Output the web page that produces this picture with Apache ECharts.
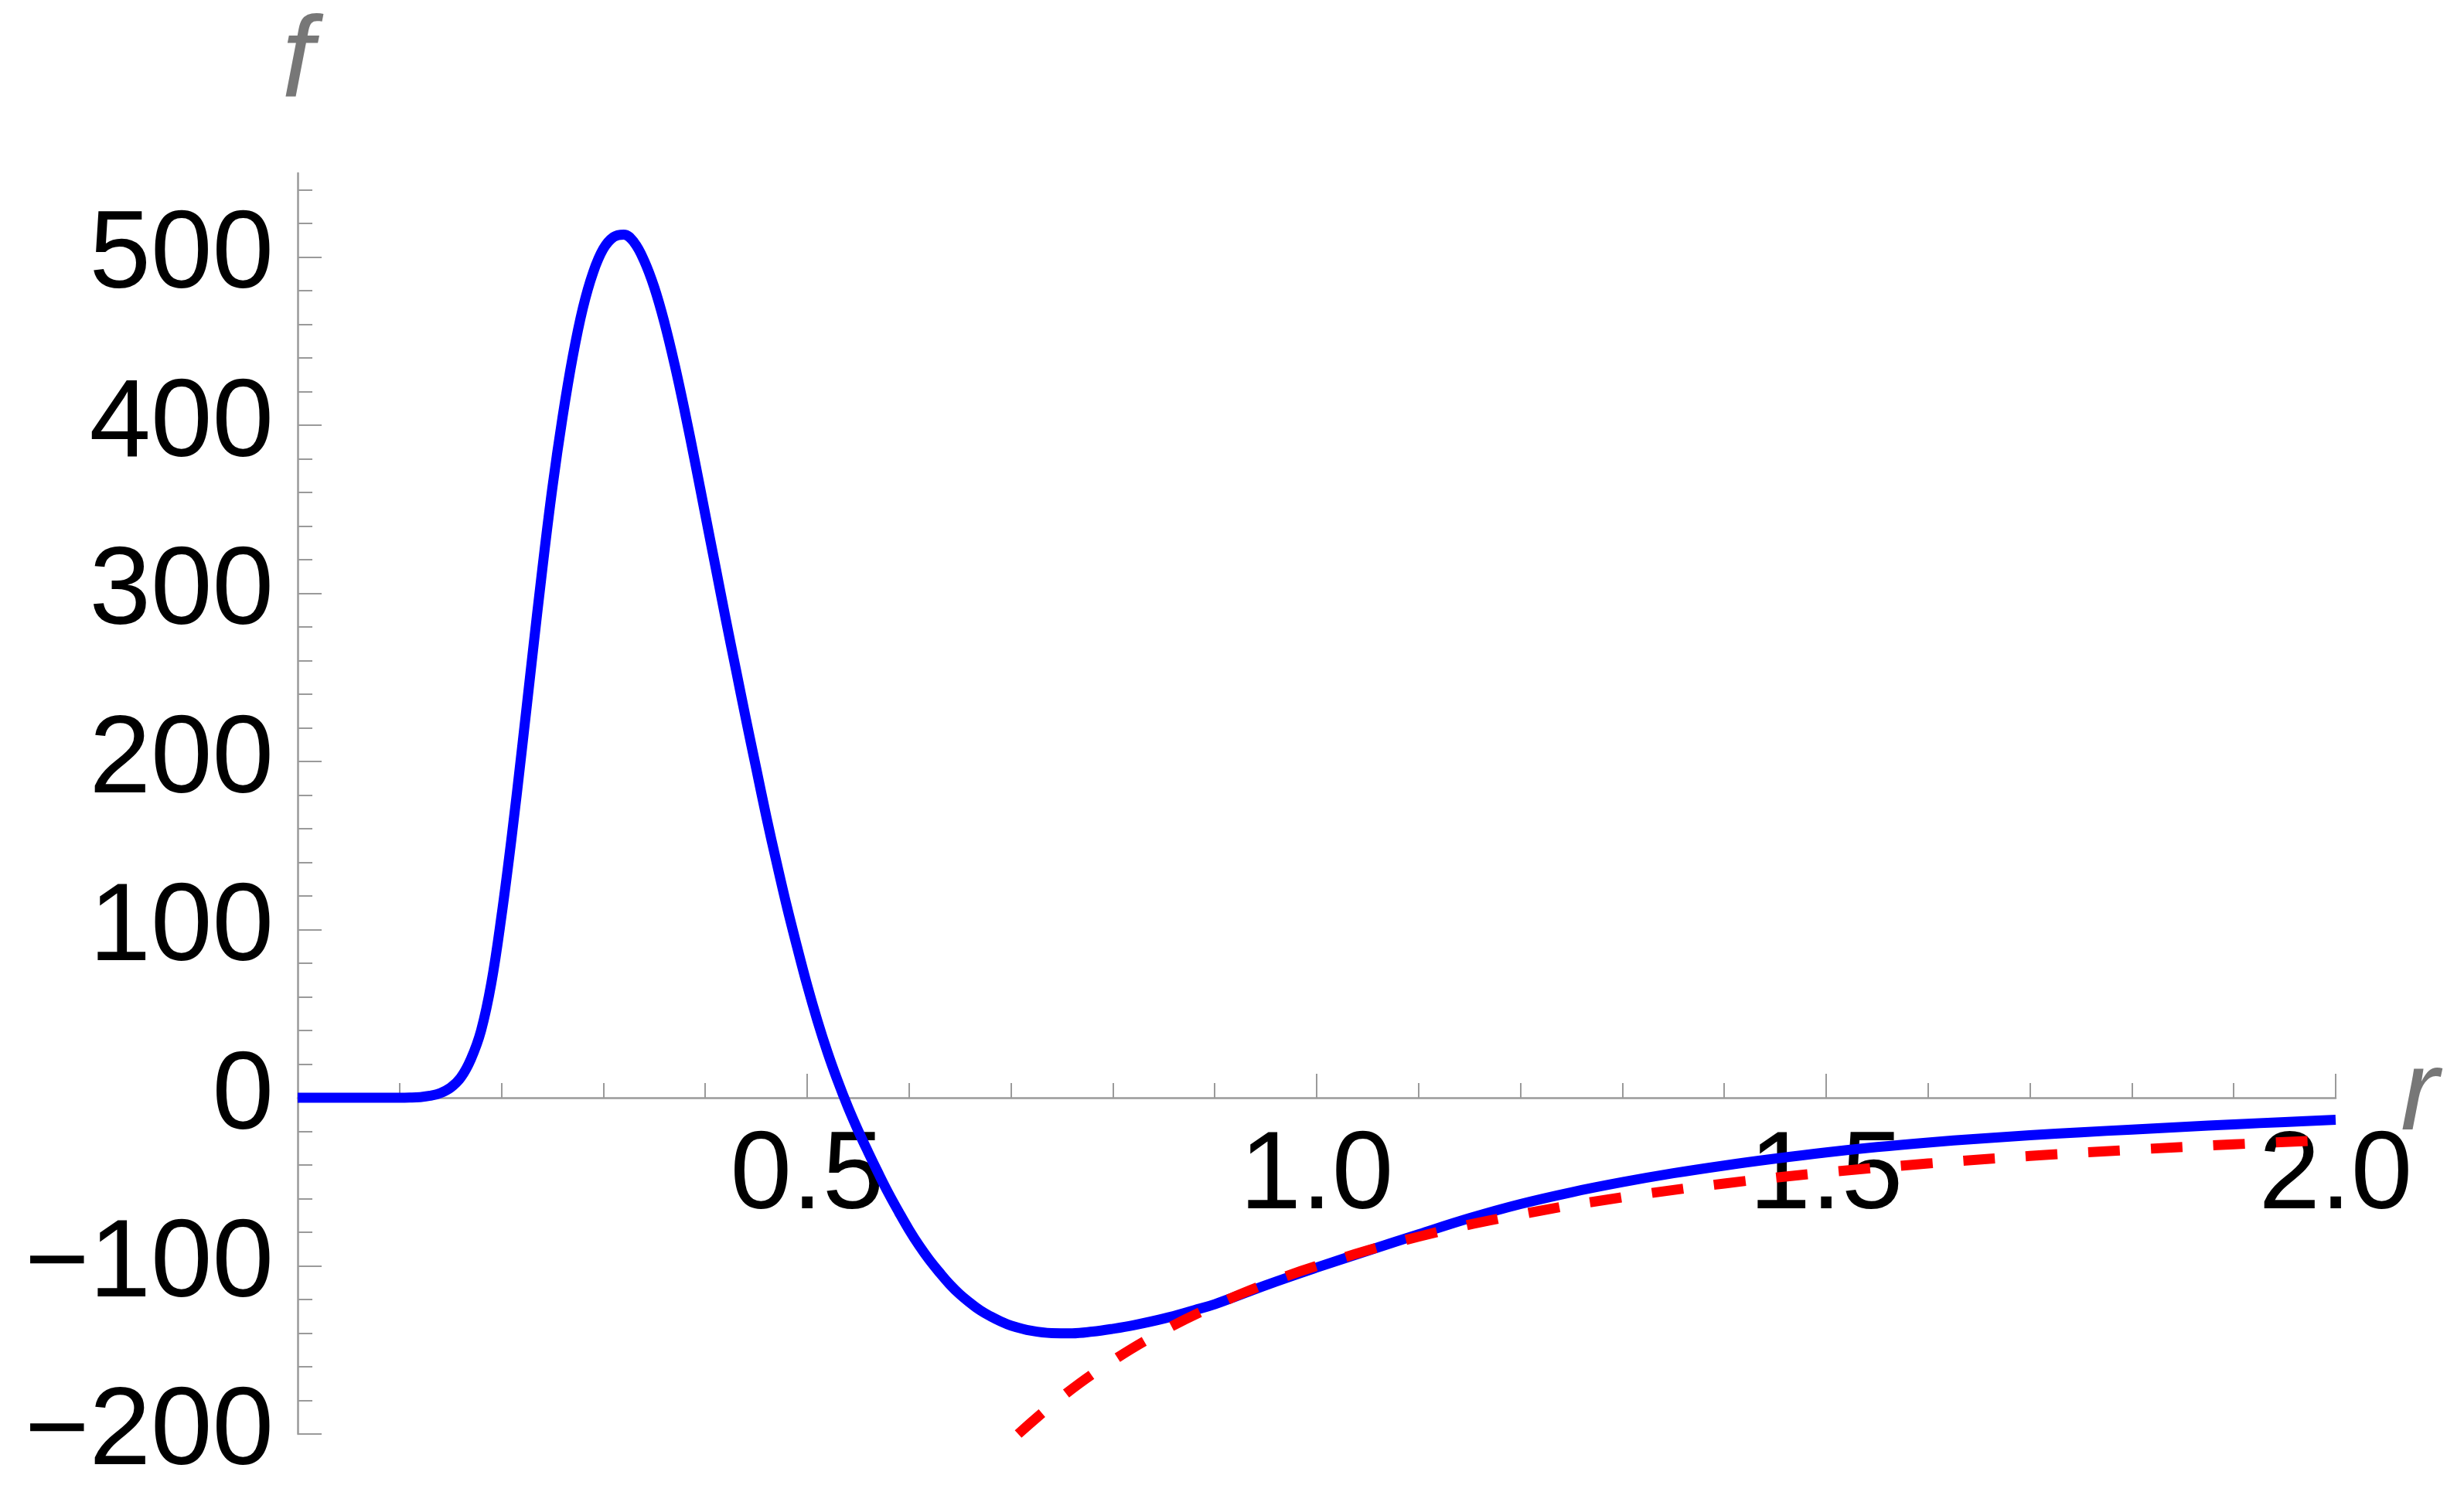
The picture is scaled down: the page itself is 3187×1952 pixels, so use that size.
<!DOCTYPE html>
<html>
<head>
<meta charset="utf-8">
<script src="https://cdn.jsdelivr.net/npm/echarts@6/dist/echarts.min.js"></script>
<style>
html,body{margin:0;padding:0;background:#ffffff;}
#chart{width:3187px;height:1952px;}
</style>
</head>
<body>
<div id="chart"></div>
<script>
// ---- data ----
const rBlue = [0, 0.05, 0.10, 0.11, 0.12, 0.13, 0.14, 0.15, 0.16, 0.17, 0.18, 0.19,
  0.20, 0.21, 0.22, 0.23, 0.24, 0.25, 0.26, 0.27, 0.28, 0.29,
  0.30, 0.31, 0.32, 0.33, 0.34, 0.35, 0.36, 0.37, 0.38, 0.39,
  0.40, 0.41, 0.42, 0.43, 0.44, 0.45, 0.46, 0.47, 0.48, 0.49,
  0.50, 0.51, 0.52, 0.53, 0.54, 0.55, 0.56, 0.57, 0.58, 0.59,
  0.60, 0.61, 0.62, 0.63, 0.64, 0.65, 0.66, 0.67, 0.68, 0.69,
  0.70, 0.72, 0.74, 0.76, 0.78, 0.80, 0.82, 0.85, 0.88, 0.90,
  0.95, 1.00, 1.05, 1.10, 1.15, 1.20, 1.25, 1.30, 1.35, 1.40,
  1.45, 1.50, 1.55, 1.60, 1.65, 1.70, 1.75, 1.80, 1.85, 1.90,
  1.95, 2.00];
const fBlue = [0, 0, 0, 0.1, 0.4, 1.2, 2.8, 6, 12, 23, 40, 68,
  108, 155, 207, 261, 314, 363, 405, 441, 470, 491,
  505, 512, 513.5, 509, 498, 482, 461, 436, 408, 378,
  347, 316, 285, 255, 225, 196, 167, 140, 114, 90,
  67, 46, 27, 10, -5.5, -19.5, -32.5, -45, -57, -68,
  -78.5, -88, -96.5, -104, -111, -117, -122, -126.5, -130, -133,
  -135.5, -138.6, -140, -140.1, -139.1, -137.4, -135.3, -131.3, -126.3, -122.8,
  -111.5, -101, -91.0, -81.2, -71.6, -63.2, -56.2, -50.2, -44.9, -40.3,
  -36.2, -32.5, -29.3, -26.6, -24.3, -22.3, -20.5, -18.9, -17.3, -15.8,
  -14.4, -13.1];

const rRed = [0.7071, 0.75, 0.80, 0.85, 0.90, 0.95, 1.00, 1.10, 1.20, 1.30,
  1.40, 1.50, 1.60, 1.70, 1.80, 1.90, 2.00];
const fRed = [-200, -177.8, -156.3, -138.4, -123.5, -110.8, -100, -82.6, -69.4, -59.2,
  -51, -44.4, -39.1, -34.6, -30.9, -27.7, -25];

const xMin = 0, xMax = 2;
const yMin = -200, yMax = 550;
const xMajorTicks = [0.5, 1.0, 1.5, 2.0];
const xTickLabels = ['0.5', '1.0', '1.5', '2.0'];
const yMajorTicks = [-200, -100, 0, 100, 200, 300, 400, 500];
const yTickLabels = ['\u2212200', '\u2212100', '0', '100', '200', '300', '400', '500'];
const xMinorTicks = [];
for (let i = 1; i <= 20; i++) xMinorTicks.push(i / 10);
const yMinorTicks = [];
for (let v = -200; v <= 540; v += 20) yMinorTicks.push(v);

const W = 3187, H = 1952;
const gridBox = { left: 385, right: 166, top: 224, bottom: 97 };
const gridH = H - gridBox.top - gridBox.bottom;
// move the x axis from the grid bottom up to f = 0
const xAxisOffset = -((0 - yMin) / (yMax - yMin)) * gridH;

const axisColor = '#9a9a9a';
const labelFont = { fontFamily: 'Liberation Sans', fontSize: 143, color: '#000000' };
const nameFont = { fontFamily: 'Liberation Sans', fontStyle: 'italic', fontSize: 148, color: '#777777' };

function labelFor(ticks, labels) {
  return function (v) {
    for (let i = 0; i < ticks.length; i++) {
      if (Math.abs(ticks[i] - v) < 1e-6) return labels[i];
    }
    return '';
  };
}

const chart = echarts.init(document.getElementById('chart'), null, { renderer: 'canvas', width: W, height: H });
chart.setOption({
  animation: false,
  backgroundColor: '#ffffff',
  grid: Object.assign({ containLabel: false, outerBoundsMode: 'none' }, gridBox),
  xAxis: [
    {
      type: 'value', min: xMin, max: xMax, position: 'bottom', offset: xAxisOffset,
      axisLine: { show: true, onZero: false, lineStyle: { color: axisColor, width: 2.5 } },
      axisTick: { show: true, inside: true, length: 31, lineStyle: { color: axisColor, width: 2 }, customValues: xMajorTicks },
      axisLabel: Object.assign({ show: true, customValues: xMajorTicks, formatter: labelFor(xMajorTicks, xTickLabels), margin: 32 }, labelFont),
      splitLine: { show: false },
      name: 'r', nameLocation: 'end', nameGap: 84, nameMoveOverlap: false,
      nameTextStyle: Object.assign({ padding: [50, 0, 0, 0] }, nameFont)
    },
    {
      type: 'value', min: xMin, max: xMax, position: 'bottom', offset: xAxisOffset,
      axisLine: { show: true, onZero: false, lineStyle: { color: axisColor, width: 2.5, opacity: 0 } },
      axisTick: { show: true, inside: true, length: 19, lineStyle: { color: axisColor, width: 2 }, customValues: xMinorTicks },
      axisLabel: { show: false },
      splitLine: { show: false }
    }
  ],
  yAxis: [
    {
      type: 'value', min: yMin, max: yMax, position: 'left',
      axisLine: { show: true, onZero: false, lineStyle: { color: axisColor, width: 2.5 } },
      axisTick: { show: true, inside: true, length: 31, lineStyle: { color: axisColor, width: 2 }, customValues: yMajorTicks },
      axisLabel: Object.assign({ show: true, customValues: yMajorTicks, formatter: labelFor(yMajorTicks, yTickLabels), margin: 31 }, labelFont),
      splitLine: { show: false },
      name: 'f', nameLocation: 'end', nameGap: 66, nameMoveOverlap: false,
      nameTextStyle: nameFont
    },
    {
      type: 'value', min: yMin, max: yMax, position: 'left',
      axisLine: { show: true, onZero: false, lineStyle: { color: axisColor, width: 2.5, opacity: 0 } },
      axisTick: { show: true, inside: true, length: 19, lineStyle: { color: axisColor, width: 2 }, customValues: yMinorTicks },
      axisLabel: { show: false },
      splitLine: { show: false }
    }
  ],
  series: [
    {
      type: 'line', xAxisIndex: 0, yAxisIndex: 0,
      data: rBlue.map((r, i) => [r, fBlue[i]]),
      smooth: 0.4, showSymbol: false, symbol: 'none',
      lineStyle: { color: '#0000ff', width: 13, join: 'round' },
      clip: true, z: 3
    },
    {
      type: 'line', xAxisIndex: 0, yAxisIndex: 0,
      data: rRed.map((r, i) => [r, fRed[i]]),
      smooth: 0.4, showSymbol: false, symbol: 'none',
      lineStyle: { color: '#ff0000', width: 13, type: [41, 40] },
      clip: true, z: 4
    }
  ]
});
</script>
</body>
</html>
